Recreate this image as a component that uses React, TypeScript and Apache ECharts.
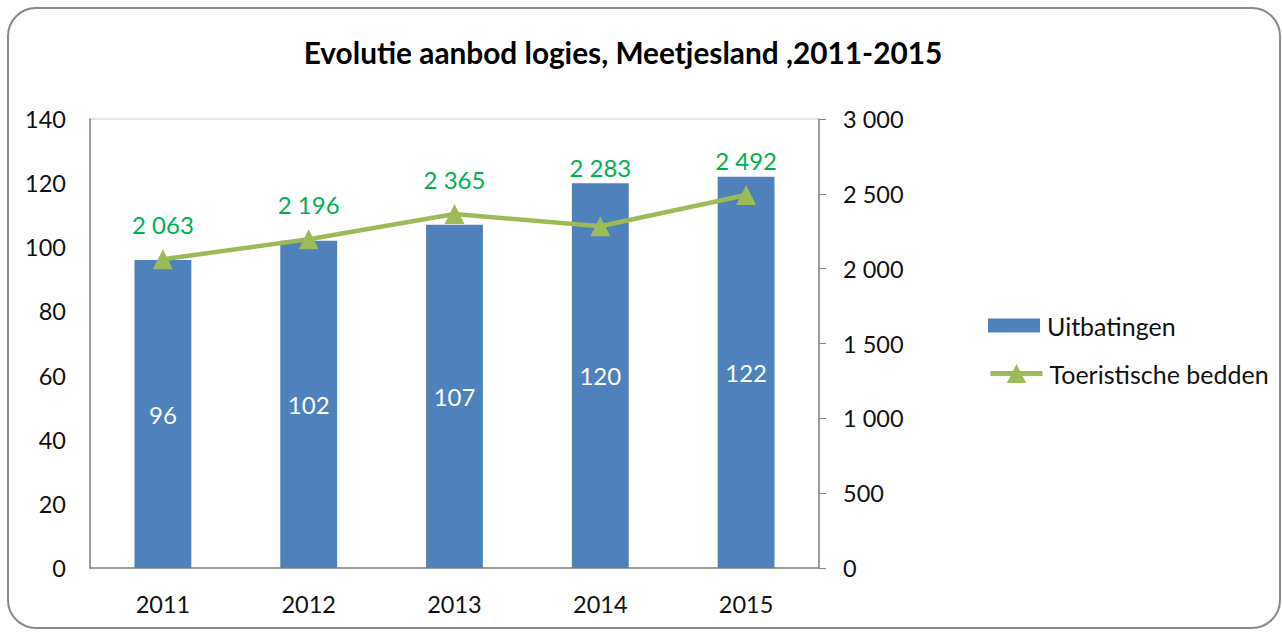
import React, { useEffect, useRef } from "react";
import * as echarts from "echarts";

const title = "Evolutie aanbod logies, Meetjesland ,2011-2015";
const years = ["2011", "2012", "2013", "2014", "2015"];
const uitbatingen = [96, 102, 107, 120, 122];
const bedden = [2063, 2196, 2365, 2283, 2492];
const seriesNames = ["Uitbatingen", "Toeristische bedden"];

const fmtSpace = (v: number) =>
  String(v).replace(/\B(?=(\d{3})+(?!\d))/g, " ");

const FONT = "Lato, 'Open Sans', sans-serif";
const TXT = "#111";

export default function App() {
  const ref = useRef<HTMLDivElement>(null);
  useEffect(() => {
    if (!ref.current) return;
    const chart = echarts.init(ref.current, null, { renderer: "svg" });
    // the 2014 label is lifted above the bar, as in the reference
    const lineData = bedden.map((v, i) =>
      i === 3 ? { value: v, label: { offset: [0, -24] } } : v
    );
    chart.setOption({
      animation: false,
      backgroundColor: "#ffffff",
      textStyle: { fontFamily: FONT },
      title: {
        text: title,
        left: 618,
        textAlign: "center",
        top: 32,
        textStyle: { fontSize: 29.8, fontWeight: "bold", color: "#000", fontFamily: FONT },
      },
      graphic: [
        {
          type: "rect",
          shape: { x: 8, y: 8, width: 1272, height: 620, r: 28 },
          style: { fill: "none", stroke: "#8a8a8a", lineWidth: 2 },
          silent: true,
          z: 100,
        },
      ],
      legend: [
        {
          orient: "vertical",
          left: 988,
          top: 313,
          padding: 0,
          itemWidth: 52,
          itemHeight: 14,
          itemGap: 0,
          textStyle: { fontSize: 25, color: TXT, fontFamily: FONT, padding: [0, 0, 0, 2] },
          data: [{ name: seriesNames[0], icon: "rect" }],
        },
        {
          orient: "vertical",
          left: 988,
          top: 361,
          padding: 0,
          itemWidth: 52,
          itemHeight: 24,
          itemGap: 0,
          lineStyle: { width: 5 },
          textStyle: { fontSize: 25, color: TXT, fontFamily: FONT, padding: [0, 0, 0, 2] },
          data: [{ name: seriesNames[1] }],
        },
      ],
      grid: {
        left: 90,
        right: 463,
        top: 119,
        bottom: 64,
        show: true,
        borderColor: "#c8c8c8",
        borderWidth: 1,
        backgroundColor: "transparent",
      },
      xAxis: {
        type: "category",
        data: years,
        axisLine: { lineStyle: { color: "#868686", width: 1.5 } },
        axisTick: { show: false },
        axisLabel: { fontSize: 23.5, color: TXT, margin: 24, fontFamily: FONT },
      },
      yAxis: [
        {
          type: "value",
          min: 0,
          max: 140,
          interval: 20,
          axisLine: { show: true, lineStyle: { color: "#868686", width: 1.5 } },
          axisTick: { show: false },
          splitLine: { show: false },
          axisLabel: { fontSize: 23.5, color: TXT, margin: 24, fontFamily: FONT },
        },
        {
          type: "value",
          min: 0,
          max: 3000,
          interval: 500,
          position: "right",
          axisLine: { show: true, lineStyle: { color: "#868686", width: 1.5 } },
          axisTick: { show: true, length: 7, lineStyle: { color: "#868686" } },
          splitLine: { show: false },
          axisLabel: {
            fontSize: 23.5,
            color: TXT,
            margin: 24,
            fontFamily: FONT,
            formatter: (v: number) => fmtSpace(v),
          },
        },
      ],
      series: [
        {
          name: seriesNames[0],
          type: "bar",
          data: uitbatingen,
          yAxisIndex: 0,
          barWidth: "39%",
          itemStyle: { color: "#4F81BD" },
          label: {
            show: true,
            position: "inside",
            color: "#ffffff",
            fontSize: 24,
            fontFamily: FONT,
          },
        },
        {
          name: seriesNames[1],
          type: "line",
          data: lineData,
          yAxisIndex: 1,
          symbol: "triangle",
          symbolSize: 20,
          lineStyle: { color: "#9BBB59", width: 4.5 },
          itemStyle: { color: "#9BBB59" },
          label: {
            show: true,
            position: "top",
            distance: 13,
            color: "#00B050",
            fontSize: 24,
            fontFamily: FONT,
            formatter: (p: any) => fmtSpace(p.value),
          },
          z: 5,
        },
      ],
    });
    return () => chart.dispose();
  }, []);
  return (
    <div
      ref={ref}
      style={{ position: "fixed", left: 0, top: 0, width: 1282, height: 632 }}
    />
  );
}
